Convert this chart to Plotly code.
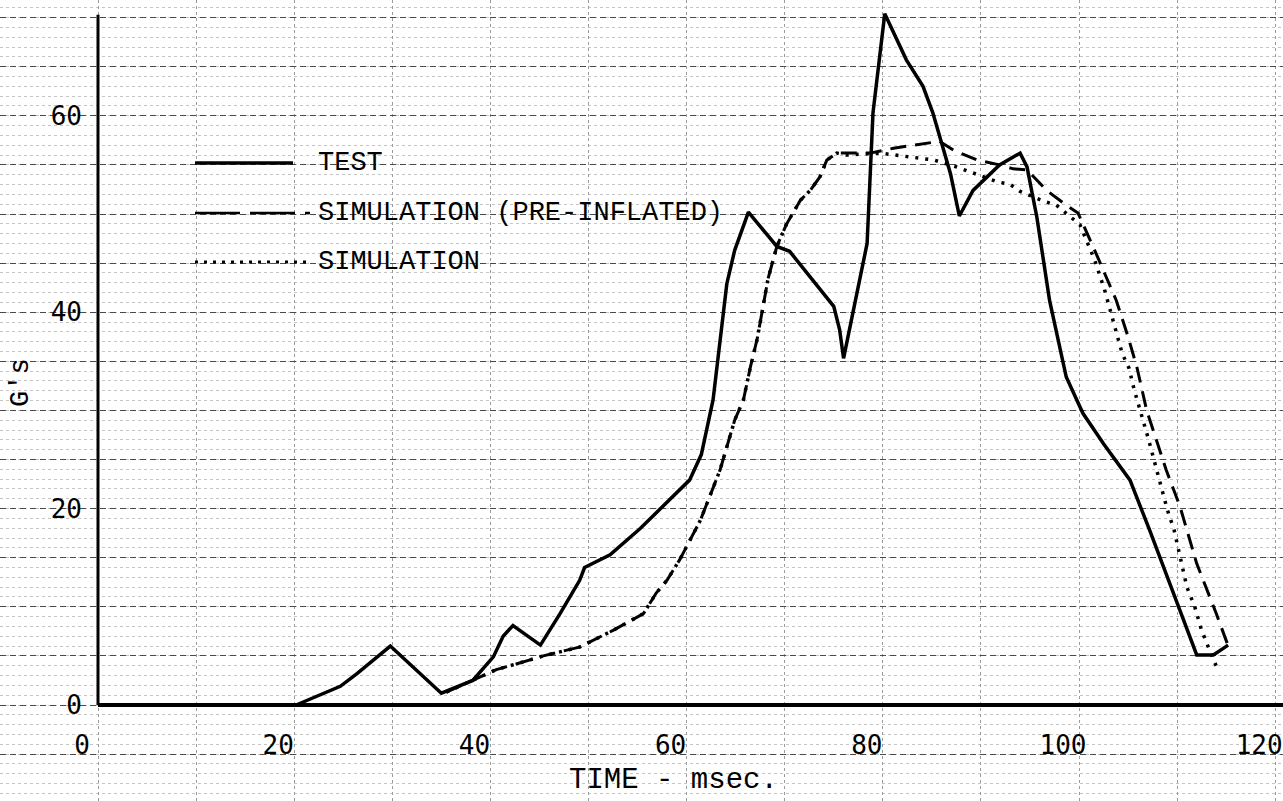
import plotly.graph_objects as go

W, H = 1283, 801

# ---- data: acceleration (G's) versus time (msec) ----
test_t = [20.2, 24.7, 26.4, 29.8, 35.0, 38.2, 40.3, 41.3, 42.3, 45.1, 47.1, 49.1,
          49.6, 52.2, 55.3, 57.8, 60.3, 61.5, 62.7, 64.1, 64.9, 66.3, 69.2, 70.5,
          73.6, 75.0, 75.6, 76.0, 78.4, 79.0, 80.2, 82.4, 84.1, 85.1, 86.0, 86.9,
          87.8, 89.2, 91.9, 94.0, 94.7, 95.7, 97.0, 98.7, 100.4, 102.5, 105.2,
          107.2, 110.0, 112.0, 113.7, 115.2]
test_g = [0.0, 1.9, 3.2, 6.0, 1.2, 2.5, 4.9, 7.0, 8.1, 6.1, 9.3, 12.7,
          14.0, 15.3, 18.0, 20.4, 22.9, 25.5, 31.1, 42.9, 46.3, 50.2, 46.7, 46.2,
          42.3, 40.6, 38.2, 35.3, 47.0, 60.3, 70.4, 65.7, 63.0, 60.3, 57.2, 54.1,
          49.8, 52.4, 55.0, 56.2, 54.8, 49.7, 41.2, 33.4, 29.7, 26.6, 22.9,
          17.8, 10.4, 5.1, 5.1, 6.1]

pre_t = [35.5, 38.2, 40.6, 42.7, 45.4, 49.1, 52.5, 55.6, 56.9, 58.0, 59.3, 61.4,
         63.4, 64.9, 65.8, 66.5, 67.2, 67.8, 68.3, 69.2, 70.2, 71.6, 72.6, 73.6,
         74.3, 75.3, 78.7, 81.1, 84.5, 85.8, 87.2, 89.6, 91.9, 93.3, 94.7, 96.7,
         98.7, 99.9, 101.6, 103.8, 105.0, 105.9, 106.9, 107.9, 108.9, 110.3,
         112.0, 114.0, 115.1]
pre_g = [1.3, 2.5, 3.6, 4.2, 5.0, 5.9, 7.6, 9.3, 11.4, 12.7, 14.8, 18.8,
         23.9, 29.0, 31.1, 34.4, 37.3, 40.6, 43.4, 46.7, 49.0, 51.4, 52.4, 53.8,
         55.5, 56.2, 56.2, 56.7, 57.2, 57.4, 56.5, 55.5, 55.0, 54.6, 54.5, 52.4,
         50.9, 50.1, 46.3, 41.2, 37.5, 34.4, 30.0, 27.0, 23.9, 20.2,
         14.4, 9.3, 6.3]

sim_t = [35.5, 38.2, 40.6, 42.7, 45.4, 49.1, 52.5, 55.6, 56.9, 58.0, 59.3, 61.4,
         63.4, 64.9, 65.8, 66.5, 67.2, 67.8, 68.3, 69.2, 70.2, 71.6, 72.6, 73.6,
         74.3, 75.3, 76.3, 79.7, 82.8, 84.1, 85.2, 87.5, 91.6, 93.0, 94.0, 96.4,
         97.7, 100.1, 101.6, 102.6, 103.4, 104.0, 104.4, 105.1, 105.6, 107.1,
         107.8, 108.4, 109.0, 109.7, 110.1, 110.6, 111.0, 111.8, 112.5, 113.1,
         114.1]
sim_g = [1.3, 2.5, 3.6, 4.2, 5.0, 5.9, 7.6, 9.3, 11.4, 12.7, 14.8, 18.8,
         23.9, 29.0, 31.1, 34.4, 37.3, 40.6, 43.4, 46.7, 49.0, 51.4, 52.4, 53.8,
         55.5, 56.2, 56.0, 56.2, 55.8, 55.7, 55.5, 54.8, 53.3, 53.0, 52.3, 51.3,
         50.9, 48.9, 45.3, 42.3, 39.5, 37.5, 35.8, 34.3, 32.2, 27.0,
         24.3, 21.9, 19.9, 17.8, 16.1, 13.9, 12.0, 10.0, 7.6, 6.1,
         3.7]

x_ticks = list(range(-10, 121, 10))
y_ticks = list(range(-5, 71, 5))

legend_names = ["TEST", "SIMULATION (PRE-INFLATED)", "SIMULATION"]
x_title = "TIME - msec."
y_title = "G's"

# ---- geometry of the graph-paper frame ----
X0_PX, Y0_PX = 98, 705          # pixel position of the origin
PX_PER_MS, PX_PER_G = 9.81, 9.82
x_range = [-X0_PX / PX_PER_MS, (W - X0_PX) / PX_PER_MS]
y_range = [-(H - Y0_PX) / PX_PER_G, Y0_PX / PX_PER_G]


def px(p):
    return p / W


def py(p):
    return 1 - p / H


MONO = "Liberation Mono, Courier New, monospace"
DIGITS = "DejaVu Sans Mono, monospace"

fig = go.Figure()

line_styles = [
    dict(color="black", width=3.5, dash="solid"),
    dict(color="black", width=3, dash="16px,9px"),
    dict(color="black", width=3.5, dash="3px,7px"),
]
for name, t, g, st in zip(legend_names, [test_t, pre_t, sim_t], [test_g, pre_g, sim_g], line_styles):
    fig.add_trace(go.Scatter(x=t, y=g, mode="lines", name=name, line=st,
                             showlegend=False, hoverinfo="skip"))

shapes = [
    # axis lines
    dict(type="line", xref="x", yref="y", x0=0, x1=0, y0=0, y1=70.3,
         line=dict(color="black", width=3)),
    dict(type="line", xref="x", yref="y", x0=0, x1=x_range[1], y0=0, y1=0,
         line=dict(color="black", width=4)),
]

# legend keys drawn beside the labels
key_rows = [163, 213, 262]
key_ends = [293, 310, 310]
key_dash = ["solid", "45px,10px", "3px,6px"]
key_width = [3.5, 2.5, 3]
for yk, xe, d, wdt in zip(key_rows, key_ends, key_dash, key_width):
    shapes.append(dict(type="line", xref="paper", yref="paper",
                       x0=px(195), x1=px(xe), y0=py(yk), y1=py(yk),
                       line=dict(color="black", width=wdt, dash=d)))

annotations = []
for yk, name in zip(key_rows, legend_names):
    annotations.append(dict(xref="paper", yref="paper", x=px(316), y=py(yk),
                            text=name, showarrow=False, xanchor="left", yanchor="middle",
                            font=dict(family=MONO, size=27, color="black")))

annotations.append(dict(xref="paper", yref="paper", x=px(673), y=py(780),
                        text=x_title, showarrow=False, xanchor="center", yanchor="middle",
                        font=dict(family=MONO, size=29, color="black")))
annotations.append(dict(xref="paper", yref="paper", x=px(21), y=py(383),
                        text=y_title, showarrow=False, textangle=-90,
                        xanchor="center", yanchor="middle",
                        font=dict(family=MONO, size=27, color="black")))

x_text = [str(v) if v >= 0 and v % 20 == 0 else "" for v in x_ticks]
y_text = [str(v) if v >= 0 and v % 20 == 0 else "" for v in y_ticks]

fig.update_layout(
    template="none",
    width=W, height=H,
    margin=dict(l=0, r=0, t=0, b=0, pad=0),
    paper_bgcolor="white", plot_bgcolor="white",
    showlegend=False,
    shapes=shapes,
    annotations=annotations,
    xaxis=dict(
        range=x_range, domain=[0, 1], anchor="free", position=(H - Y0_PX) / H,
        tickmode="array", tickvals=x_ticks, ticktext=x_text,
        ticks="", showline=False, zeroline=False, automargin=False,
        showgrid=True, gridcolor="#9a9a9a", gridwidth=1, griddash="dot",
        tickfont=dict(family=DIGITS, size=26, color="black"),
        ticklabelstandoff=22, ticklabelshift=-16, ticklabeloverflow="allow",
    ),
    yaxis=dict(
        range=y_range, domain=[0, 1], anchor="free", position=X0_PX / W,
        tickmode="array", tickvals=y_ticks, ticktext=y_text,
        ticks="", showline=False, zeroline=False, automargin=False,
        showgrid=True, gridcolor="#4a4a4a", gridwidth=1, griddash="6px,4px",
        minor=dict(tickmode="linear", tick0=0, dtick=1, showgrid=True,
                   gridcolor="#c4c4c4", gridwidth=1, griddash="dot"),
        tickfont=dict(family=DIGITS, size=26, color="black"),
        ticklabelstandoff=16, ticklabeloverflow="allow",
    ),
)

fig.write_html("out.html")
